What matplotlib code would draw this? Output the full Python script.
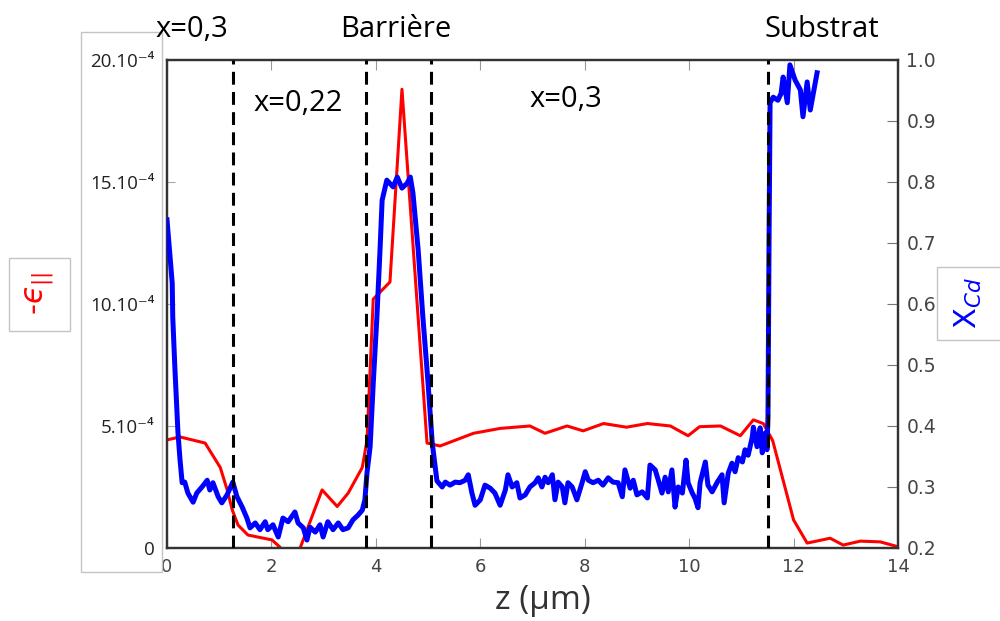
import numpy as np
import matplotlib
matplotlib.use('Agg')
import matplotlib.pyplot as plt
from matplotlib.patches import Rectangle

# -eps_parallel, in units of 1e-4 (left axis)
z_eps = [0, 0.25, 0.73, 1.02, 1.15, 1.25, 1.36, 1.55, 2.01, 2.16, 2.35, 2.55, 2.97,
         3.26, 3.47, 3.74, 3.83, 3.95, 4.27, 4.5, 4.98, 5.23, 5.87, 6.38, 6.95, 7.24,
         7.66, 7.97, 8.36, 8.8, 9.2, 9.64, 9.98, 10.2, 10.6, 10.98, 11.23, 11.42, 11.6,
         12.0, 12.26, 12.7, 12.95, 13.28, 13.66, 14.0]
eps = [4.43, 4.55, 4.3, 3.3, 2.4, 1.56, 0.94, 0.53, 0.33, 0.04, -0.6, 0.0, 2.38,
       1.7, 2.25, 3.3, 4.4, 10.2, 10.9, 18.8, 4.3, 4.18, 4.7, 4.9, 5.0, 4.7,
       5.0, 4.8, 5.1, 4.95, 5.1, 5.0, 4.6, 4.97, 5.0, 4.6, 5.25, 5.1, 4.4,
       1.15, 0.2, 0.4, 0.12, 0.28, 0.25, 0.05]

# Cd fraction (right axis)
z_cd = [0.0, 0.10, 0.11, 0.15, 0.21, 0.25, 0.29, 0.34, 0.40, 0.50, 0.57, 0.67, 0.77,
        0.82, 0.88, 0.98, 1.05, 1.15, 1.26, 1.34, 1.44, 1.53, 1.59, 1.69, 1.78, 1.88,
        1.93, 2.03, 2.13, 2.22, 2.32, 2.45, 2.51, 2.61, 2.68, 2.74, 2.84, 2.93, 2.99,
        3.08, 3.18, 3.28, 3.37, 3.47, 3.56, 3.66, 3.74, 3.79, 3.83, 3.89, 3.95, 4.02,
        4.08, 4.12, 4.21, 4.33, 4.41, 4.50, 4.60, 4.66, 4.71, 4.81, 4.90, 5.00, 5.08,
        5.17, 5.27, 5.33, 5.42, 5.52, 5.61, 5.71, 5.77, 5.84, 5.90, 6.00, 6.09, 6.19,
        6.28, 6.38, 6.48, 6.53, 6.61, 6.70, 6.76, 6.86, 6.95, 7.05, 7.11, 7.18, 7.24,
        7.30, 7.38, 7.43, 7.49, 7.57, 7.62, 7.68, 7.76, 7.85, 7.95, 8.01, 8.07, 8.16,
        8.26, 8.35, 8.45, 8.54, 8.64, 8.72, 8.77, 8.87, 8.93, 9.00, 9.10, 9.20, 9.25,
        9.35, 9.41, 9.48, 9.54, 9.60, 9.67, 9.73, 9.79, 9.87, 9.94, 9.98, 10.06, 10.11,
        10.17, 10.21, 10.31, 10.36, 10.44, 10.54, 10.63, 10.67, 10.75, 10.82, 10.88,
        10.94, 11.02, 11.07, 11.13, 11.21, 11.23, 11.30, 11.36, 11.40, 11.46, 11.49,
        11.51, 11.53, 11.55, 11.61, 11.70, 11.76, 11.80, 11.88, 11.93, 12.03, 12.13,
        12.18, 12.26, 12.32, 12.38, 12.45]
x_cd = [0.738, 0.634, 0.579, 0.497, 0.389, 0.344, 0.307, 0.308, 0.290, 0.275, 0.290, 0.300, 0.311,
        0.295, 0.307, 0.284, 0.274, 0.287, 0.308, 0.284, 0.267, 0.249, 0.233, 0.241, 0.230, 0.243,
        0.230, 0.238, 0.218, 0.249, 0.243, 0.259, 0.241, 0.233, 0.213, 0.234, 0.226, 0.238, 0.218,
        0.243, 0.230, 0.241, 0.230, 0.233, 0.246, 0.254, 0.262, 0.279, 0.323, 0.366, 0.470, 0.579,
        0.689, 0.770, 0.803, 0.792, 0.808, 0.790, 0.798, 0.808, 0.782, 0.689, 0.579, 0.470, 0.372,
        0.310, 0.300, 0.308, 0.303, 0.308, 0.307, 0.311, 0.320, 0.290, 0.270, 0.279, 0.303, 0.298,
        0.290, 0.270, 0.295, 0.320, 0.300, 0.307, 0.282, 0.287, 0.300, 0.307, 0.315, 0.300, 0.316,
        0.307, 0.320, 0.279, 0.308, 0.300, 0.274, 0.307, 0.300, 0.279, 0.307, 0.325, 0.311, 0.307,
        0.311, 0.303, 0.315, 0.308, 0.307, 0.284, 0.328, 0.298, 0.311, 0.287, 0.292, 0.282, 0.336,
        0.328, 0.311, 0.290, 0.316, 0.292, 0.328, 0.267, 0.300, 0.290, 0.344, 0.307, 0.290, 0.282,
        0.266, 0.307, 0.341, 0.303, 0.292, 0.308, 0.320, 0.274, 0.323, 0.339, 0.325,
        0.348, 0.341, 0.361, 0.352, 0.382, 0.398, 0.366, 0.397, 0.356, 0.389, 0.361,
        0.415, 0.700, 0.930, 0.939, 0.934, 0.945, 0.972, 0.930, 0.992, 0.967, 0.951,
        0.907, 0.964, 0.918, 0.946, 0.979]

# layer boundaries
bounds = [1.26, 3.81, 5.06, 11.51]

left_ticks = [0, 5, 10, 15, 20]
left_labels = ['0', '5.10\u207b\u2074', '10.10\u207b\u2074', '15.10\u207b\u2074', '20.10\u207b\u2074']

txt_font = ['Open Sans', 'DejaVu Sans']

fig = plt.figure(figsize=(10, 6.21), dpi=100)
ax = fig.add_axes([0.167, 0.1176, 0.731, 0.7858])
ax.plot(z_eps, eps, color='red', lw=2.2, zorder=2)
ax.set_xlim(0, 14)
ax.set_ylim(0, 20)
ax.set_yticks(left_ticks)
ax.set_yticklabels(left_labels, family=txt_font, fontsize=13.5, color='#222222')
ax.set_xticks(range(0, 15, 2))
ax.tick_params(axis='x', direction='in', length=7, color='#999999', labelsize=13,
               labelcolor='#444444', pad=7, top=True)
ax.tick_params(axis='y', direction='in', length=6, color='#aaaaaa', pad=9)

ax2 = ax.twinx()
ax2.plot(z_cd, x_cd, color='blue', lw=3.6, zorder=3)
for b in bounds:
    ax2.axvline(b, color='black', lw=2.2, dashes=(4.2, 2.4), zorder=4)
ax2.set_ylim(0.2, 1.0)
ax2.set_yticks(np.arange(0.2, 1.01, 0.1))
ax2.set_yticklabels(['%.1f' % v for v in np.arange(0.2, 1.01, 0.1)])
ax2.tick_params(axis='y', direction='in', length=8, color='#777777', labelsize=13.5,
                labelcolor='#444444', pad=6)

for a in (ax, ax2):
    for s in a.spines.values():
        s.set_color('#333333')
        s.set_linewidth(1.6)

# annotations
fig.text(0.192, 0.953, 'x=0,3', ha='center', va='center', fontsize=21, family=txt_font)
fig.text(0.396, 0.953, 'Barri\u00e8re', ha='center', va='center', fontsize=21, family=txt_font)
fig.text(0.822, 0.953, 'Substrat', ha='center', va='center', fontsize=21, family=txt_font)
fig.text(0.298, 0.834, 'x=0,22', ha='center', va='center', fontsize=21, family=txt_font)
fig.text(0.566, 0.839, 'x=0,3', ha='center', va='center', fontsize=21, family=txt_font)
fig.text(0.543, 0.033, 'z (\u00b5m)', ha='center', va='center', fontsize=24,
         family=txt_font, color='#333333')

# axis labels in boxes
fig.text(0.040, 0.528, '-$\u03f5_{||}$', rotation=90, ha='center', va='center',
         fontsize=22, color='red')
fig.text(0.968, 0.512, r'X$_{Cd}$', rotation=90, ha='center', va='center',
         fontsize=22, color='blue')

box_kw = dict(transform=fig.transFigure, fill=False, edgecolor='#c4c4c4', lw=1)
fig.patches.append(Rectangle((0.009, 1 - 331 / 621), 0.061, 73 / 621, **box_kw))
fig.patches.append(Rectangle((0.081, 1 - 572 / 621), 0.081, 540 / 621, **box_kw))
fig.patches.append(Rectangle((0.937, 1 - 340 / 621), 0.07, 73 / 621, **box_kw))

fig.savefig('out.png', dpi=100)
